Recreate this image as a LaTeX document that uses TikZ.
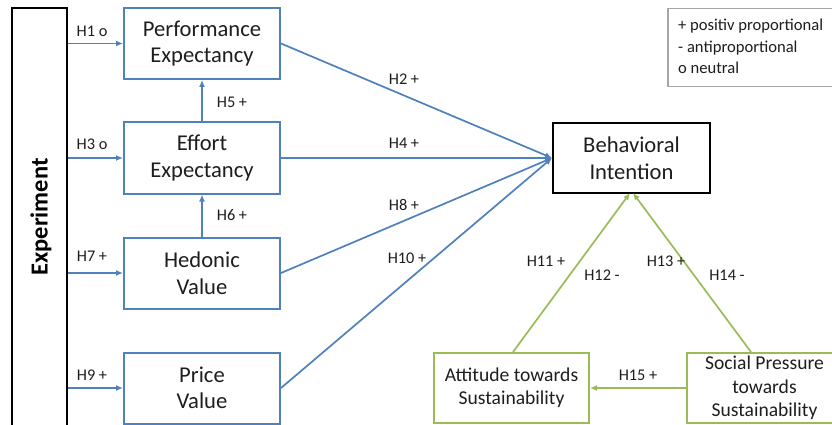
\documentclass[tikz,border=0pt]{standalone}
\usepackage{fontspec}
\setmainfont{Carlito}
\usetikzlibrary{arrows.meta}
\definecolor{cblue}{RGB}{79,129,189}
\definecolor{cgreen}{RGB}{155,187,89}
\definecolor{ctext}{RGB}{30,30,30}
\begin{document}
\begin{tikzpicture}[x=1pt,y=-1pt,
  bluebox/.style={draw=cblue,line width=2pt,fill=white,minimum width=156pt,minimum height=71pt,inner sep=0pt,align=center,text=ctext,font=\fontsize{22.6}{26.5}\selectfont},
  blackbox/.style={draw=black,line width=2pt,fill=white,minimum width=157pt,minimum height=70pt,inner sep=0pt,align=center,text=ctext,font=\fontsize{22.6}{26.5}\selectfont},
  greenbox/.style={draw=cgreen,line width=2pt,fill=white,minimum width=155pt,minimum height=70pt,inner sep=0pt,align=center,text=ctext,font=\fontsize{19.6}{23.5}\selectfont},
  barrow/.style={draw=cblue,line width=1.7pt,-{Latex[length=7pt,width=6pt]}},
  garrow/.style={draw=cgreen,line width=1.7pt,-{Latex[length=7pt,width=6pt]}},
  lbl/.style={font=\fontsize{16.3}{19}\selectfont,text=ctext,inner sep=0pt},
]
\useasboundingbox (0,0) rectangle (832,425);
\clip (0,0) rectangle (832,425);
\fill[white] (0,0) rectangle (832,425);

% Experiment bar
\node[draw=black,line width=2pt,minimum width=55pt,minimum height=440pt,inner sep=0pt] (exp) at (39.5,228) {};
\node[rotate=90,font=\bfseries\fontsize{24.5}{28}\selectfont,text=black] (expt) at (41,217) {Experiment};

% Left column boxes
\node[bluebox] (pe) at (202,43.5) {Performance\\Expectancy};
\node[bluebox] (ee) at (202,158) {Effort\\Expectancy};
\node[bluebox] (hv) at (202,273) {Hedonic\\Value};
\node[bluebox] (pv) at (202,388) {Price\\Value};

% Behavioral intention
\node[blackbox] (bi) at (631.5,158) {Behavioral\\Intention};

% Green boxes
\node[greenbox] (att) at (511.5,388) {Attitude towards\\Sustainability};
\node[greenbox] (sp) at (764.5,388) {Social Pressure\\towards\\Sustainability};

% Legend
\node[draw=gray!70,line width=1.2pt,minimum width=170pt,minimum height=78pt,inner sep=0pt] (leg) at (753,47.5) {};
\node[anchor=north west,align=left,inner sep=0pt,text=ctext,font=\fontsize{16.6}{21.5}\selectfont] (legt) at (678,19) {+ positiv proportional\\- antiproportional\\o neutral};

% Arrows from experiment
\coordinate (e1) at (exp.east |- pe.west);
\coordinate (e3) at (exp.east |- ee.west);
\coordinate (e7) at (exp.east |- hv.west);
\coordinate (e9) at (exp.east |- pv.west);
\draw[barrow] (e1) -- (pe.west);
\draw[barrow] (e3) -- (ee.west);
\draw[barrow] (e7) -- (hv.west);
\draw[barrow] (e9) -- (pv.west);
\node[lbl] (l1) at (92,31) {H1 o};
\node[lbl] (l3) at (92,144) {H3 o};
\node[lbl] (l7) at (92,256) {H7 +};
\node[lbl] (l9) at (92,375) {H9 +};

% Vertical arrows
\draw[barrow] (ee.north) -- (pe.south);
\draw[barrow] (hv.north) -- (ee.south);
\node[lbl] (l5) at (232,102) {H5 +};
\node[lbl] (l6) at (232,215) {H6 +};

% To behavioral intention
\draw[barrow] (pe.east) -- (bi.west);
\draw[barrow] (ee.east) -- (bi.west);
\draw[barrow] (hv.east) -- (bi.west);
\draw[barrow] (pv.east) -- (bi.west);
\node[lbl] (l2) at (404,79) {H2 +};
\node[lbl] (l4) at (404,143) {H4 +};
\node[lbl] (l8) at (404,205) {H8 +};
\node[lbl] (l10) at (407,258) {H10 +};

% Green arrows
\coordinate (bi1) at (630,193);
\coordinate (bi2) at (633,193);
\coordinate (att1) at (513,353);
\coordinate (sp1) at (751,353);
\draw[garrow] (att.north -| att1) -- (bi1);
\draw[garrow] (sp.north -| sp1) -- (bi2);
\draw[garrow] (sp.west) -- (att.east);
\node[lbl] (l11) at (546,261) {H11 +};
\node[lbl] (l12) at (602,275) {H12 -};
\node[lbl] (l13) at (666,261) {H13 +};
\node[lbl] (l14) at (727,275) {H14 -};
\node[lbl] (l15) at (638,375) {H15 +};
\end{tikzpicture}
\end{document}
